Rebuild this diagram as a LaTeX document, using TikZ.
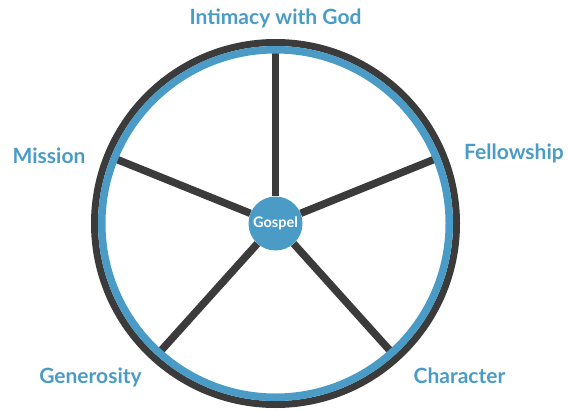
\documentclass[tikz,border=0pt]{standalone}
\usepackage{fontspec}
\setmainfont{Lato}
\usetikzlibrary{calc}
\definecolor{rimgray}{HTML}{3B3B3B}
\definecolor{sky}{HTML}{4A9CC6}
\tikzset{lbl/.style={text=sky,font=\bfseries\fontsize{21}{21}\selectfont,anchor=base}}
\begin{document}
\begin{tikzpicture}[x=1pt,y=1pt]
\useasboundingbox (0,0) rectangle (569,410);
\coordinate (O) at (275.5,186.5);
\foreach \a/\n in {90/top,22/fel,-48/cha,-132/gen,158/mis}
  \coordinate (\n) at ($(O)+(\a:174)$);
\node[circle,fill=sky,minimum size=54pt,inner sep=0pt,text=white,font=\bfseries\fontsize{14.5}{14.5}\selectfont] (gospel) at (O) {Gospel};
\foreach \n in {top,fel,cha,gen,mis}
  \draw[rimgray,line width=7.5pt] (gospel) -- (\n);
\draw[rimgray,line width=7pt] (O) circle [radius=181];
\draw[sky,line width=7.5pt] (O) circle [radius=173.75];
\node[lbl] (intimacy) at (275.5,385) {Intimacy with God};
\node[lbl] (mission) at (49,247) {Mission};
\node[lbl] (fellowship) at (514,250) {Fellowship};
\node[lbl] (generosity) at (90.5,27) {Generosity};
\node[lbl] (character) at (459.5,27) {Character};
\end{tikzpicture}
\end{document}
